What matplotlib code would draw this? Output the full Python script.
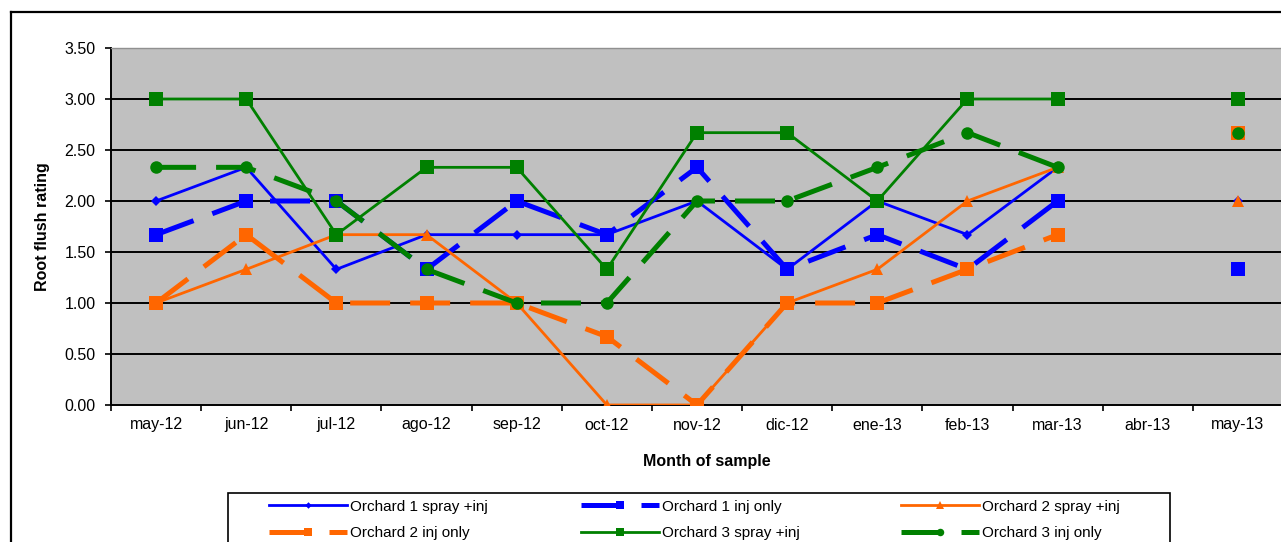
import numpy as np
import matplotlib
matplotlib.use("Agg")
import matplotlib.pyplot as plt
from matplotlib.lines import Line2D
from matplotlib.patches import Rectangle

plt.rcParams['font.family'] = ['Liberation Sans', 'DejaVu Sans']

months = ["may-12", "jun-12", "jul-12", "ago-12", "sep-12", "oct-12", "nov-12",
          "dic-12", "ene-13", "feb-13", "mar-13", "abr-13", "may-13"]
nan = np.nan
o1_spray = [2.00, 2.33, 1.33, 1.67, 1.67, 1.67, 2.00, 1.33, 2.00, 1.67, 2.33, nan, 2.00]
o1_inj   = [1.67, 2.00, 2.00, 1.33, 2.00, 1.67, 2.33, 1.33, 1.67, 1.33, 2.00, nan, 1.33]
o2_spray = [1.00, 1.33, 1.67, 1.67, 1.00, 0.00, 0.00, 1.00, 1.33, 2.00, 2.33, nan, 2.00]
o2_inj   = [1.00, 1.67, 1.00, 1.00, 1.00, 0.67, 0.00, 1.00, 1.00, 1.33, 1.67, nan, 2.67]
o3_spray = [3.00, 3.00, 1.67, 2.33, 2.33, 1.33, 2.67, 2.67, 2.00, 3.00, 3.00, nan, 3.00]
o3_inj   = [2.33, 2.33, 2.00, 1.33, 1.00, 1.00, 2.00, 2.00, 2.33, 2.67, 2.33, nan, 2.67]
yticks = [0.0, 0.5, 1.0, 1.5, 2.0, 2.5, 3.0, 3.5]

BLUE, ORANGE, GREEN = "#0000FF", "#FF6600", "#008000"
FS = 11.5

W, H = 1281, 542
fig = plt.figure(figsize=(W / 100, H / 100), dpi=100)
fig.patch.set_facecolor("white")

# outer chart frame (left and top edges visible)
fig.add_artist(Line2D([11 / W, 11 / W], [0, 1 - 12 / H], transform=fig.transFigure,
                      color="black", lw=1.6))
fig.add_artist(Line2D([11 / W, 1.0], [1 - 12 / H, 1 - 12 / H], transform=fig.transFigure,
                      color="black", lw=1.6))

ax = fig.add_axes([111 / W, 1 - 405 / H, 1172 / W, 357 / H])
ax.set_facecolor("#C0C0C0")

x = np.arange(len(months))
thin = dict(lw=2.0, solid_joinstyle="miter")
thick = dict(lw=3.6, dashes=(8, 4))

series = [
    ("Orchard 1 spray +inj", o1_spray, BLUE, "D", 5.5, thin),
    ("Orchard 1 inj only", o1_inj, BLUE, "s", 10.5, thick),
    ("Orchard 2 spray +inj", o2_spray, ORANGE, "^", 8.5, thin),
    ("Orchard 2 inj only", o2_inj, ORANGE, "s", 10.5, thick),
    ("Orchard 3 spray +inj", o3_spray, GREEN, "s", 10.0, thin),
    ("Orchard 3 inj only", o3_inj, GREEN, "o", 9.0, thick),
]
handles = []
for i, (lab, vals, col, mk, ms, st) in enumerate(series):
    h, = ax.plot(x, vals, color=col, marker=mk, markersize=ms, markeredgewidth=0,
                 label=lab, zorder=3 + i, **st)
    handles.append(h)

for yv in yticks[1:-1]:
    ax.axhline(yv, color="black", lw=1.4, zorder=1)

ax.set_xlim(-0.5, len(months) - 0.5)
ax.set_ylim(yticks[0], yticks[-1])
ax.set_yticks(yticks)
ax.set_yticklabels([f"{v:.2f}" for v in yticks])
ax.set_xticks(x)
ax.set_xticklabels(months)
ax.set_xticks(np.arange(len(months) + 1) - 0.5, minor=True)
ax.tick_params(axis="x", which="major", length=0, pad=9, labelsize=FS)
ax.tick_params(axis="x", which="minor", length=4, width=1.2, direction="out")
ax.tick_params(axis="y", length=4, width=1.2, direction="out", pad=7, labelsize=FS)

for s in ["left", "bottom"]:
    ax.spines[s].set_color("black")
    ax.spines[s].set_linewidth(1.4)
ax.spines["top"].set_color("#909090")
ax.spines["top"].set_linewidth(1.0)
ax.spines["right"].set_visible(False)

ax.set_ylabel("Root flush rating", fontsize=FS, fontweight="bold")
ax.yaxis.set_label_coords(-0.052, 0.5)
ax.set_xlabel("Month of sample", fontsize=FS, fontweight="bold")
ax.xaxis.set_label_coords(0.508, -0.138)

# legend frame
fig.add_artist(Rectangle((228 / W, -0.2), (1170 - 228) / W, 0.2 + 1 - 493 / H,
                         transform=fig.transFigure, fill=False, edgecolor="black", lw=1.2))

LFS = 11
cols = [[0, 3], [1, 4], [2, 5]]
col_x = [258, 570, 890]
for cx, idx in zip(col_x, cols):
    fig.legend([handles[i] for i in idx], [series[i][0] for i in idx],
               loc="upper left", bbox_to_anchor=(cx / W, 1 - 489 / H),
               frameon=False, fontsize=LFS, handlelength=5.1, handletextpad=0.2,
               labelspacing=0.8, numpoints=1, markerscale=0.6, borderpad=0.2)

fig.savefig("out.png", dpi=100, facecolor="white")
